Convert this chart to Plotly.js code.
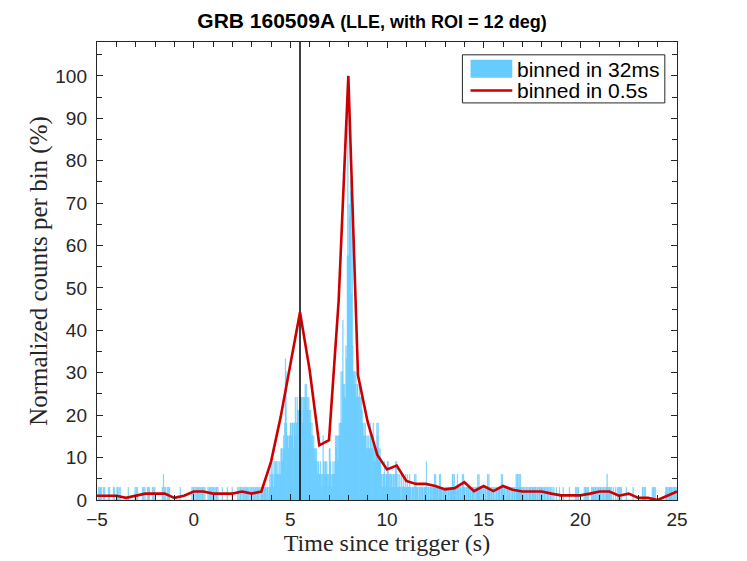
<!DOCTYPE html>
<html>
<head>
<meta charset="utf-8">
<script src="https://cdn.plot.ly/plotly-3.0.1.min.js"></script>
<style>
  html, body { margin: 0; padding: 0; background: #fff; }
  #chart { width: 747px; height: 561px; }
</style>
</head>
<body>
<div id="chart"></div>
<script>
// ***** data
// 32 ms bins start at -5 s; each row holds 25 bins (0.8 s), counts in base 36
const binStart = -5;
const binWidth = 0.032;
const binsPerRow = 25;
const countRows = [
    "0010110100101000001010000", // -5.0
    "0101000110101000000000000", // -4.2
    "1000000000010101000000010", // -3.4
    "1010001011000010101000000", // -2.6
    "0000010210100101010000000", // -1.8
    "0000000001000000000000000", // -1.0
    "0001011010101101010110101", // -0.2
    "0000101011010101011010000", //  0.6
    "0010000000100000001000000", //  1.4
    "0010101101010101101010101", //  2.2
    "1010101011010101110111101", //  3.0
    "1101213223123323232232443", //  3.8
    "4546ba6554556656646685687", //  4.6
    "7678788687898978787675654", //  5.4
    "5434432332232125323323212", //  6.2
    "4432123223545535656a6ae98", //  7.0
    "98cbjxjnmopgpca9a9a899889", //  7.8
    "8787656565454544654546343", //  8.6
    "4465643432212232122332212", //  9.4
    "2212212323121121021121121", // 10.2
    "1211121101110212111011101", // 11.0
    "1101111310110111011121211", // 11.8
    "1102121101110111011011112", // 12.6
    "2121101211011102121101101", // 13.4
    "1101101110101112121101101", // 14.2
    "1011012121101101101011011", // 15.0
    "1102121011010110110101101", // 15.8
    "1021221212110110101101011", // 16.6
    "1101110111011011101110110", // 17.4
    "1011010110100100010000100", // 18.2
    "0001000000000100000000010", // 19.0
    "1011000000001011010100001", // 19.8
    "1011011010110110101101012", // 20.6
    "1101101001000100101101100", // 21.4
    "0000010000000000100000000", // 22.2
    "0000001101010000000000101", // 23.0
    "1010000000000000000110101", // 23.8
    "1101101011010"              // 24.6
];
const peakCount = 33; // tallest 32 ms bin = 100 %

// 0.5 s light curve, normalized to its own peak
const coarseTime = [
    -5, -4.5, -4, -3.5, -3, -2.5, -2, -1.5, -1, -0.5,
    0, 0.5, 1, 1.5, 2, 2.5, 3, 3.5, 4, 4.5,
    5, 5.5, 6, 6.5, 7, 7.5, 8, 8.5, 9, 9.5,
    10, 10.5, 11, 11.5, 12, 12.5, 13, 13.5, 14, 14.5,
    15, 15.5, 16, 16.5, 17, 17.5, 18, 18.5, 19, 19.5,
    20, 20.5, 21, 21.5, 22, 22.5, 23, 23.5, 24, 24.5, 25
];
const coarsePct = [
    1.0, 1.0, 1.0, 0.5, 1.0, 1.5, 1.5, 1.5, 0.5, 1.0,
    2.0, 2.0, 1.5, 1.5, 1.5, 2.0, 1.5, 2.0, 9.0, 19.6,
    32.2, 44.3, 30.6, 12.9, 14.1, 47, 100, 29.4, 18.4, 10.6,
    7.2, 8.1, 4.5, 3.8, 3.8, 3.3, 2.5, 2.8, 4.2, 2.1,
    3.3, 2.1, 3.3, 2.4, 2.0, 2.0, 2.0, 1.5, 1.1, 1.1,
    1.1, 1.5, 2.0, 2.0, 1.0, 1.5, 0.5, 0.5, 0.0, 1.0, 2.0
];

const triggerMark = 5.5;
const legendNames = ["binned in 32ms", "binned in 0.5s"];

const xTicks = [-5, 0, 5, 10, 15, 20, 25];
const yTicks = [0, 10, 20, 30, 40, 50, 60, 70, 80, 90, 100];
const xRange = [-5, 25];
const yRange = [0, 108];

// ***** build bins
const nBins = 938;
const counts = countRows
    .map(r => r.padEnd(binsPerRow, "0").slice(0, binsPerRow))
    .join("")
    .slice(0, nBins)
    .split("")
    .map(c => parseInt(c, 36));
const binCenters = counts.map((c, k) => binStart + binWidth * (k + 0.5));
const binPct = counts.map(c => c * 100 / peakCount);

// ***** styles
const BLUE = "#66CCFF";
const RED = "#CC0000";
const INK = "#262626";
const SANS = "Liberation Sans, Arial, Helvetica, sans-serif";
const SERIF = "Liberation Serif, Times New Roman, serif";

const traces = [
    {
        type: "bar",
        x: binCenters,
        y: binPct,
        width: binWidth,
        // thin outline in the same colour so sub-pixel bars read as solid
        marker: { color: BLUE, line: { color: BLUE, width: 0.35 } },
        name: legendNames[0],
        hoverinfo: "skip"
    },
    {
        type: "scatter",
        mode: "lines",
        x: [triggerMark, triggerMark],
        y: yRange,
        line: { color: "#000000", width: 1.5 },
        hoverinfo: "skip"
    },
    {
        type: "scatter",
        mode: "lines",
        x: coarseTime,
        y: coarsePct,
        line: { color: RED, width: 2.6 },
        name: legendNames[1],
        hoverinfo: "skip"
    }
];

const axisCommon = {
    showline: true,
    linecolor: INK,
    linewidth: 1.2,
    mirror: "ticks",
    ticks: "inside",
    ticklen: 6,
    tickwidth: 1,
    tickcolor: INK,
    showgrid: false,
    zeroline: false,
    tickfont: { family: SANS, size: 19, color: INK }
};

const layout = {
    width: 747,
    height: 561,
    margin: { l: 97, r: 70, t: 42, b: 61 },
    paper_bgcolor: "#ffffff",
    plot_bgcolor: "#ffffff",
    showlegend: false,
    bargap: 0,
    title: {
        text: '<b>GRB 160509A <span style="font-size:18px">(LLE, with ROI = 12 deg)</span></b>',
        font: { family: SANS, size: 21, color: "#000000" },
        xref: "container",
        x: 0.498,
        xanchor: "center",
        yref: "container",
        y: 0.964,
        yanchor: "middle"
    },
    xaxis: Object.assign({}, axisCommon, {
        range: xRange,
        tickvals: xTicks,
        ticklabelstandoff: 2,
        minor: { dtick: 1, ticks: "inside", ticklen: 5, tickcolor: INK, showgrid: false },
        title: {
            text: "Time since trigger (s)",
            font: { family: SERIF, size: 24, color: INK },
            standoff: 2
        }
    }),
    yaxis: Object.assign({}, axisCommon, {
        range: yRange,
        tickvals: yTicks,
        ticklabelstandoff: 5,
        minor: { dtick: 5, ticks: "inside", ticklen: 5, tickcolor: INK, showgrid: false },
        title: {
            text: "Normalized counts per bin (%)",
            font: { family: SERIF, size: 25, color: INK },
            standoff: 0
        }
    }),
    // legend drawn by hand so the swatches match the original box
    shapes: [
        { type: "rect", xref: "paper", yref: "paper", x0: 0.630, x1: 0.979, y0: 0.867, y1: 0.972,
          line: { color: INK, width: 1 }, fillcolor: "#ffffff" },
        { type: "rect", xref: "paper", yref: "paper", x0: 0.644, x1: 0.716, y0: 0.922, y1: 0.961,
          line: { width: 0 }, fillcolor: BLUE },
        { type: "line", xref: "paper", yref: "paper", x0: 0.644, x1: 0.716, y0: 0.894, y1: 0.894,
          line: { color: RED, width: 2.6 } }
    ],
    annotations: [
        { xref: "paper", yref: "paper", x: 0.721, y: 0.941, xanchor: "left", yanchor: "middle",
          text: legendNames[0], showarrow: false, font: { family: SANS, size: 21, color: "#000000" } },
        { xref: "paper", yref: "paper", x: 0.721, y: 0.894, xanchor: "left", yanchor: "middle",
          text: legendNames[1], showarrow: false, font: { family: SANS, size: 21, color: "#000000" } }
    ]
};

Plotly.newPlot("chart", traces, layout, { staticPlot: true, displayModeBar: false });
</script>
</body>
</html>
